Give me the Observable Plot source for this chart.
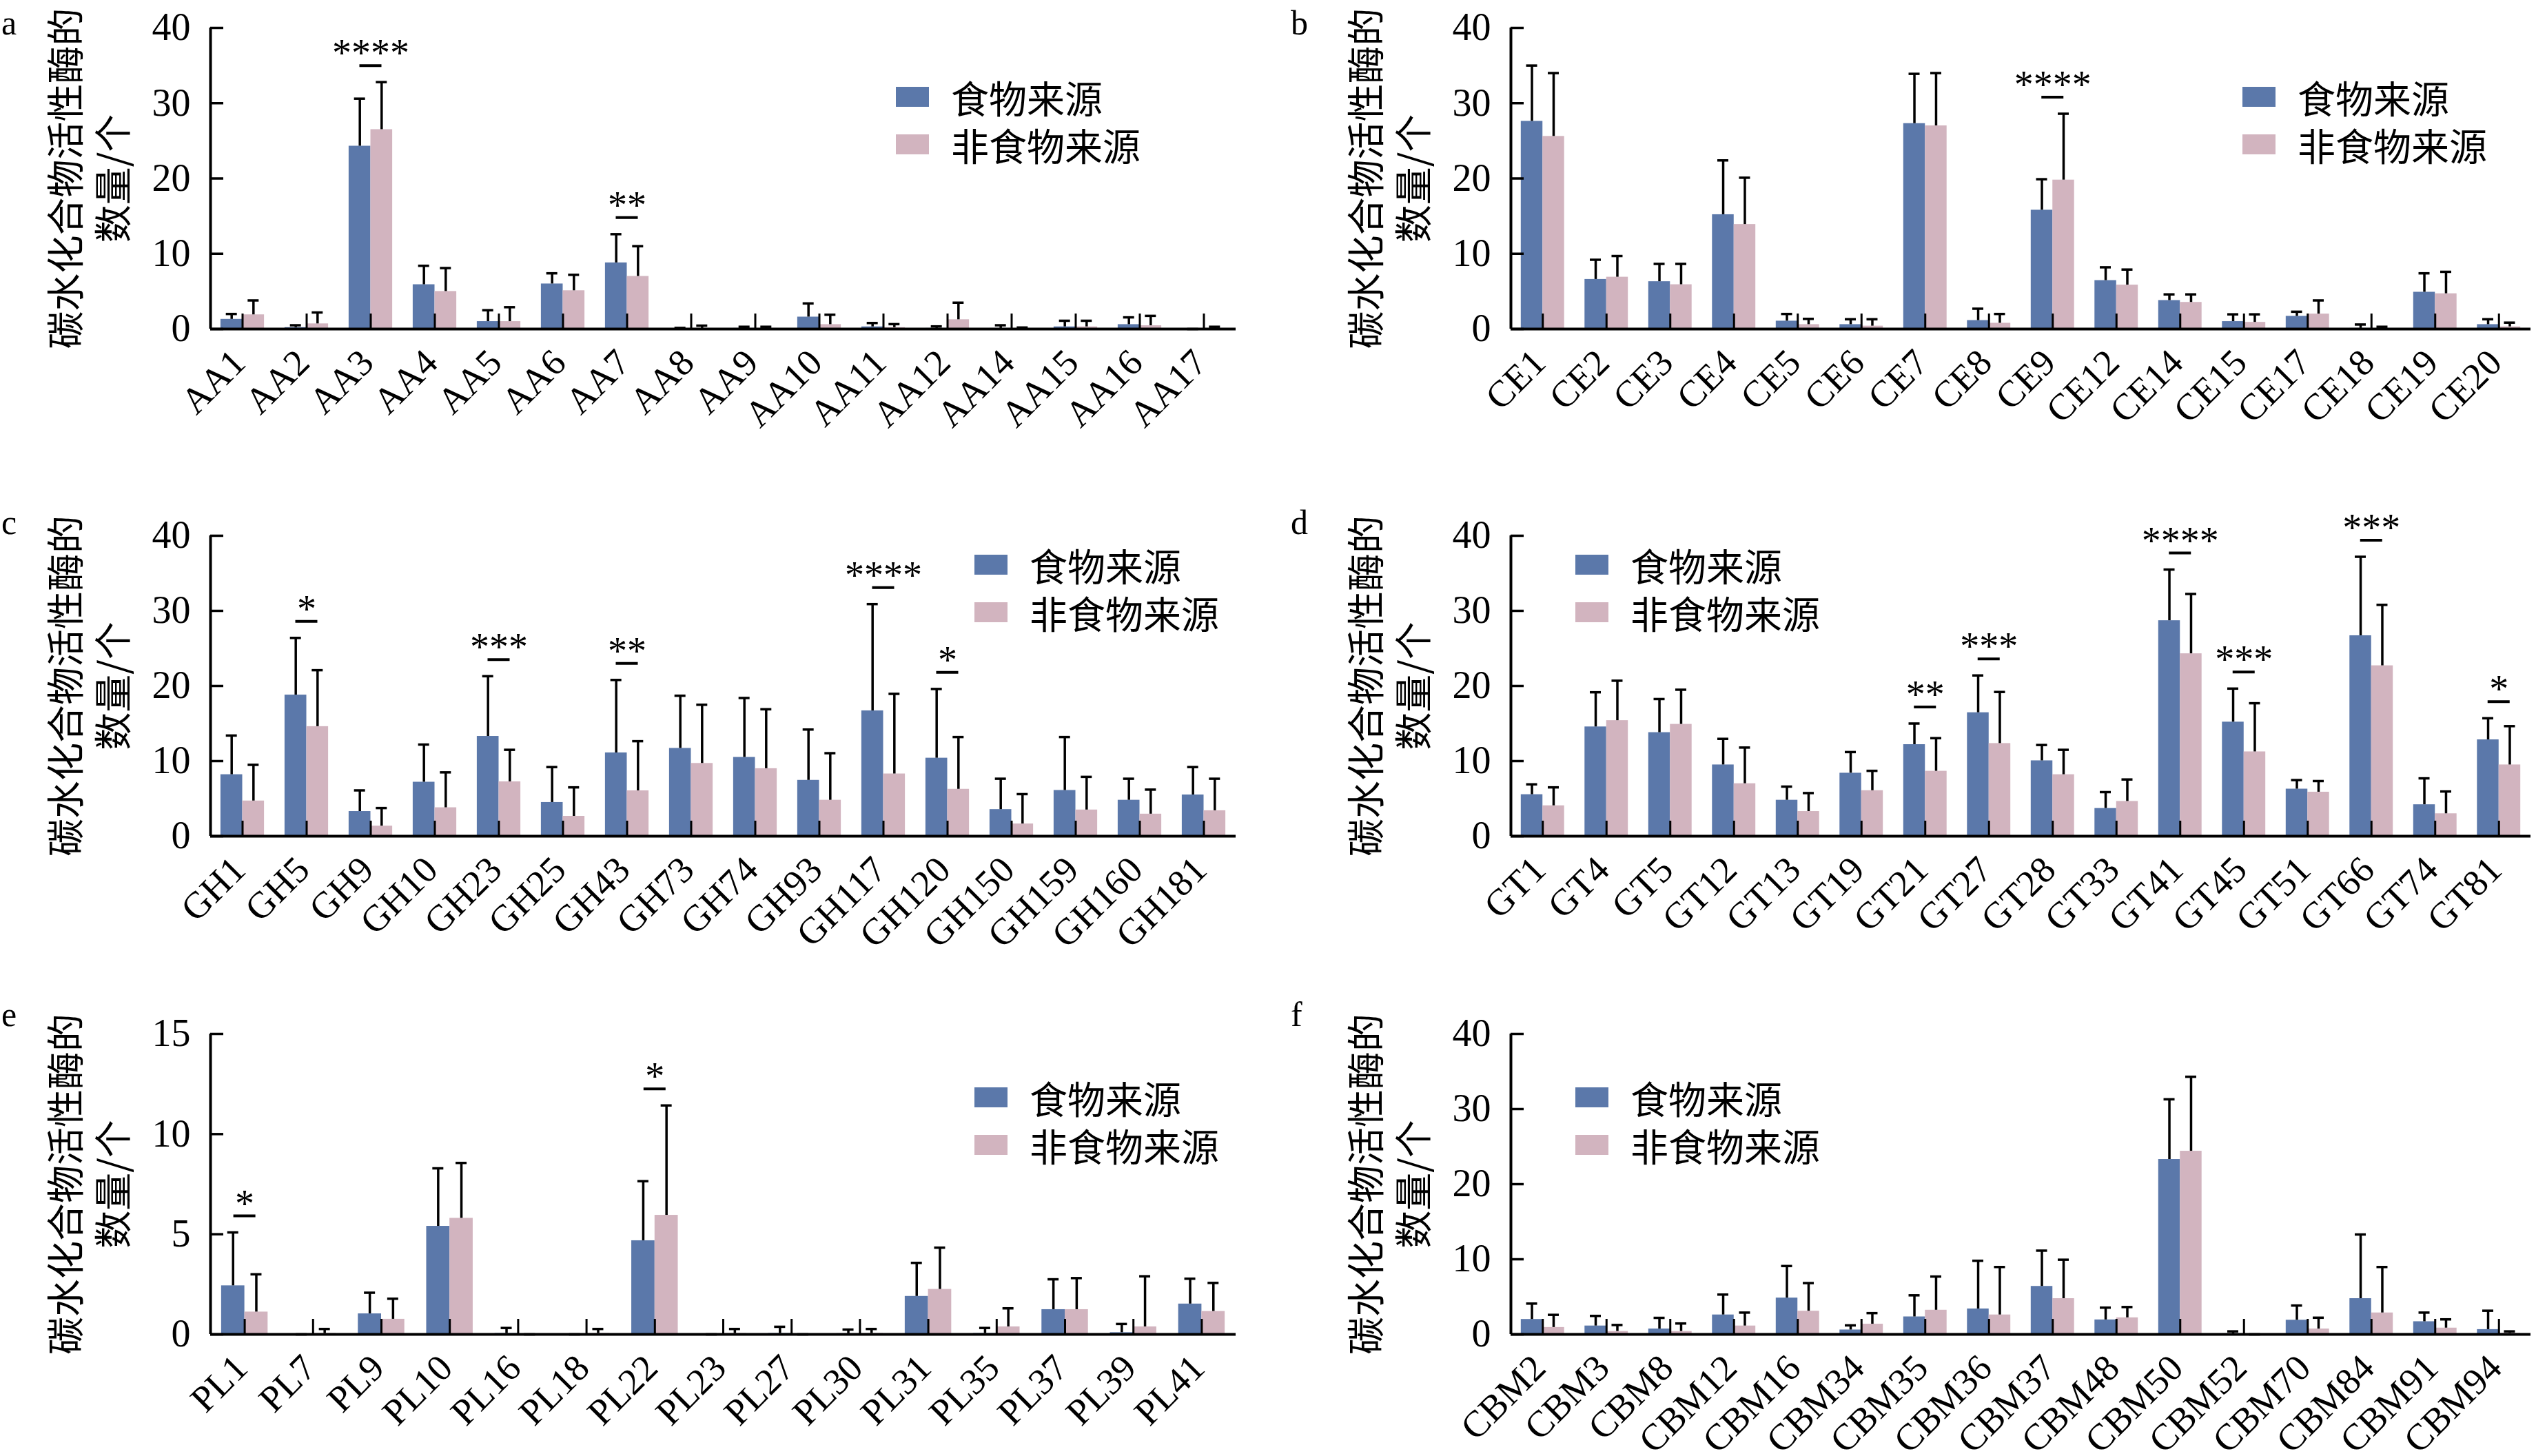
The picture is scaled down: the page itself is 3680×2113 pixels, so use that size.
<!DOCTYPE html>
<html>
<head>
<meta charset="utf-8">
<script src="https://cdn.jsdelivr.net/npm/d3@7"></script>
<script src="https://cdn.jsdelivr.net/npm/@observablehq/plot@0.6"></script>
<style>
  html, body { margin: 0; padding: 0; background: #fff; }
  #root { position: relative; width: 3680px; height: 2113px; overflow: hidden; background: #fff; }
  .panel { position: absolute; }
  .letter { position: absolute; font-family: "Liberation Serif", "Times New Roman", serif; font-size: 50px; line-height: 50px; color: #000; }
  .lrow { position: absolute; display: flex; align-items: center; height: 60px; white-space: nowrap; }
  .sw { width: 48px; height: 29px; margin-right: 32px; flex: none; }
  .lt { display: block; height: 60px; overflow: visible; font-family: "Noto Sans CJK SC", sans-serif; font-size: 55px; color: #000; line-height: 60px; }
</style>
</head>
<body>
<div id="root"></div>
<script>
// ---------------- data ----------------
const seriesNames = ["食物来源", "非食物来源"];
const yLabel = "碳水化合物活性酶的\n数量/个";

// a: AA
const aCats   = ["AA1","AA2","AA3","AA4","AA5","AA6","AA7","AA8","AA9","AA10","AA11","AA12","AA14","AA15","AA16","AA17"];
const aFood   = [1.3, 0.2, 24.3, 5.9, 1.0, 6.0, 8.8, 0.05, 0.1, 1.6, 0.3, 0.1, 0.1, 0.3, 0.6, 0];
const aFoodSd = [0.7, 0.3, 6.3, 2.5, 1.5, 1.4, 3.8, 0.1, 0.2, 1.8, 0.5, 0.25, 0.4, 0.8, 0.95, 0];
const aNon    = [1.9, 0.7, 26.5, 5.0, 1.0, 5.1, 7.0, 0.1, 0.1, 0.6, 0.2, 1.25, 0.05, 0.3, 0.45, 0.05];
const aNonSd  = [1.9, 1.5, 6.3, 3.1, 1.9, 2.1, 4.0, 0.35, 0.2, 1.3, 0.45, 2.25, 0.15, 0.8, 1.3, 0.25];
const aSigCats = ["AA3", "AA7"];
const aSigLabels = ["****", "**"];
const aTicks = [0, 10, 20, 30, 40];

// b: CE
const bCats   = ["CE1","CE2","CE3","CE4","CE5","CE6","CE7","CE8","CE9","CE12","CE14","CE15","CE17","CE18","CE19","CE20"];
const bFood   = [27.6, 6.6, 6.3, 15.2, 1.06, 0.6, 27.3, 1.14, 15.8, 6.45, 3.8, 1.0, 1.7, 0.1, 4.9, 0.6];
const bFoodSd = [7.4, 2.6, 2.35, 7.2, 0.94, 0.7, 6.6, 1.56, 4.1, 1.75, 0.8, 0.95, 0.6, 0.5, 2.5, 0.7];
const bNon    = [25.6, 6.9, 5.9, 13.9, 0.6, 0.4, 27.0, 0.78, 19.8, 5.85, 3.55, 0.9, 2.0, 0.05, 4.7, 0.3];
const bNonSd  = [8.4, 2.8, 2.75, 6.2, 0.75, 0.9, 7.0, 1.22, 8.8, 2.05, 1.05, 1.05, 1.8, 0.25, 2.9, 0.55];
const bSigCats = ["CE9"];
const bSigLabels = ["****"];
const bTicks = [0, 10, 20, 30, 40];

// c: GH
const cCats   = ["GH1","GH5","GH9","GH10","GH23","GH25","GH43","GH73","GH74","GH93","GH117","GH120","GH150","GH159","GH160","GH181"];
const cFood   = [8.2, 18.8, 3.3, 7.2, 13.3, 4.5, 11.1, 11.7, 10.5, 7.45, 16.7, 10.4, 3.56, 6.1, 4.8, 5.5];
const cFoodSd = [5.2, 7.6, 2.8, 5.0, 8.0, 4.7, 9.7, 7.0, 7.9, 6.75, 14.2, 9.2, 4.09, 7.1, 2.85, 3.7];
const cNon    = [4.7, 14.6, 1.35, 3.8, 7.25, 2.66, 6.05, 9.7, 9.0, 4.8, 8.3, 6.26, 1.64, 3.5, 2.95, 3.4];
const cNonSd  = [4.8, 7.5, 2.4, 4.7, 4.25, 3.84, 6.6, 7.8, 7.9, 6.25, 10.65, 6.94, 3.96, 4.4, 3.25, 4.25];
const cSigCats = ["GH5", "GH23", "GH43", "GH117", "GH120"];
const cSigLabels = ["*", "***", "**", "****", "*"];
const cTicks = [0, 10, 20, 30, 40];

// d: GT
const dCats   = ["GT1","GT4","GT5","GT12","GT13","GT19","GT21","GT27","GT28","GT33","GT41","GT45","GT51","GT66","GT74","GT81"];
const dFood   = [5.54, 14.56, 13.8, 9.5, 4.8, 8.4, 12.2, 16.45, 10.05, 3.7, 28.7, 15.2, 6.28, 26.7, 4.2, 12.84];
const dFoodSd = [1.36, 4.6, 4.46, 3.46, 1.8, 2.8, 2.8, 4.95, 2.09, 2.17, 6.8, 4.45, 1.19, 10.5, 3.5, 2.86];
const dNon    = [4.06, 15.4, 14.9, 7.0, 3.3, 6.07, 8.66, 12.35, 8.2, 4.64, 24.3, 11.24, 5.87, 22.7, 3.0, 9.5];
const dNonSd  = [2.44, 5.3, 4.6, 4.8, 2.44, 2.63, 4.39, 6.85, 3.3, 2.91, 7.95, 6.46, 1.47, 8.1, 2.95, 5.15];
const dSigCats = ["GT21", "GT27", "GT41", "GT45", "GT66", "GT81"];
const dSigLabels = ["**", "***", "****", "***", "***", "*"];
const dTicks = [0, 10, 20, 30, 40];

// e: PL
const eCats   = ["PL1","PL7","PL9","PL10","PL16","PL18","PL22","PL23","PL27","PL30","PL31","PL35","PL37","PL39","PL41"];
const eFood   = [2.43, 0, 1.03, 5.4, 0.05, 0, 4.68, 0, 0.05, 0.04, 1.9, 0.05, 1.24, 0.09, 1.52];
const eFoodSd = [2.66, 0, 1.05, 2.89, 0.27, 0, 2.97, 0, 0.33, 0.2, 1.67, 0.27, 1.51, 0.43, 1.26];
const eNon    = [1.12, 0.05, 0.76, 5.8, 0, 0.05, 5.95, 0.05, 0, 0.05, 2.25, 0.38, 1.24, 0.38, 1.15];
const eNonSd  = [1.88, 0.22, 1.02, 2.76, 0, 0.22, 5.48, 0.22, 0, 0.22, 2.08, 0.92, 1.57, 2.52, 1.42];
const eSigCats = ["PL1", "PL22"];
const eSigLabels = ["*", "*"];
const eTicks = [0, 5, 10, 15];

// f: CBM
const fCats   = ["CBM2","CBM3","CBM8","CBM12","CBM16","CBM34","CBM35","CBM36","CBM37","CBM48","CBM50","CBM52","CBM70","CBM84","CBM91","CBM94"];
const fFood   = [2.0, 1.13, 0.73, 2.6, 4.85, 0.6, 2.34, 3.4, 6.4, 1.94, 23.3, 0.1, 1.9, 4.77, 1.7, 0.65];
const fFoodSd = [2.1, 1.33, 1.47, 2.7, 4.25, 0.6, 2.86, 6.4, 4.75, 1.62, 8.0, 0.3, 1.94, 8.53, 1.2, 2.5];
const fNon    = [0.93, 0.4, 0.4, 1.13, 3.1, 1.37, 3.23, 2.6, 4.77, 2.22, 24.4, 0, 0.73, 2.87, 0.85, 0.15];
const fNonSd  = [1.67, 0.85, 1.05, 1.77, 3.73, 1.46, 4.47, 6.37, 5.17, 1.42, 9.9, 0, 1.49, 6.1, 1.15, 0.25];
const fSigCats = [];
const fSigLabels = [];
const fTicks = [0, 10, 20, 30, 40];

// ---------------- styles ----------------
const BLUE = "#5b78aa";
const PINK = "#d2b4bf";
const SERIF = "Liberation Serif, Times New Roman, serif";
const CJK = "Noto Sans CJK SC, sans-serif";

const panels = [
  {letter:"a", cats:aCats, food:aFood, foodSd:aFoodSd, non:aNon, nonSd:aNonSd, sigCats:aSigCats, sigLabels:aSigLabels, ticks:aTicks, yMax:40,
   left:0, top:0, width:1840, height:700, mt:40, mb:223, ml:305, mr:47, letterPos:[2, 8], legendPos:[1300, 140]},
  {letter:"b", cats:bCats, food:bFood, foodSd:bFoodSd, non:bNon, nonSd:bNonSd, sigCats:bSigCats, sigLabels:bSigLabels, ticks:bTicks, yMax:40,
   left:1840, top:0, width:1840, height:700, mt:40, mb:223, ml:352, mr:8, letterPos:[1873, 8], legendPos:[3254, 140]},
  {letter:"c", cats:cCats, food:cFood, foodSd:cFoodSd, non:cNon, nonSd:cNonSd, sigCats:cSigCats, sigLabels:cSigLabels, ticks:cTicks, yMax:40,
   left:0, top:720, width:1840, height:700, mt:57, mb:207, ml:305, mr:47, letterPos:[2, 733], legendPos:[1414, 819]},
  {letter:"d", cats:dCats, food:dFood, foodSd:dFoodSd, non:dNon, nonSd:dNonSd, sigCats:dSigCats, sigLabels:dSigLabels, ticks:dTicks, yMax:40,
   left:1840, top:720, width:1840, height:700, mt:57, mb:207, ml:352, mr:8, letterPos:[1873, 733], legendPos:[2286, 819]},
  {letter:"e", cats:eCats, food:eFood, foodSd:eFoodSd, non:eNon, nonSd:eNonSd, sigCats:eSigCats, sigLabels:eSigLabels, ticks:eTicks, yMax:15,
   left:0, top:1420, width:1840, height:693, mt:80, mb:177, ml:305, mr:47, letterPos:[2, 1447], legendPos:[1414, 1592]},
  {letter:"f", cats:fCats, food:fFood, foodSd:fFoodSd, non:fNon, nonSd:fNonSd, sigCats:fSigCats, sigLabels:fSigLabels, ticks:fTicks, yMax:40,
   left:1840, top:1420, width:1840, height:693, mt:80, mb:177, ml:352, mr:8, letterPos:[1873, 1447], legendPos:[2286, 1592]}
];

const root = document.getElementById("root");

function makePanel(p) {
  const n = p.cats.length;
  const pw = p.width - p.ml - p.mr;
  const ph = p.height - p.mt - p.mb;
  const pi = 0.32, po = 0.16;
  const step = pw / (n - pi + 2 * po);
  const bw = step * (1 - pi);
  const capHalf = 8;
  const food = p.cats.map((c, i) => ({cat: c, v: p.food[i], sd: p.foodSd[i]}));
  const non = p.cats.map((c, i) => ({cat: c, v: p.non[i], sd: p.nonSd[i]}));
  const topOf = new Map(p.cats.map((c, i) => [c, Math.max(p.food[i] + p.foodSd[i], p.non[i] + p.nonSd[i])]));
  const sig = p.sigCats.map((c, i) => ({cat: c, y: topOf.get(c), label: p.sigLabels[i]}));

  const svg = Plot.plot({
    width: p.width,
    height: p.height,
    marginTop: p.mt,
    marginBottom: p.mb,
    marginLeft: p.ml,
    marginRight: p.mr,
    style: {background: "transparent", color: "black", overflow: "visible"},
    x: {type: "band", domain: p.cats, paddingInner: pi, paddingOuter: po, round: false, axis: null},
    y: {domain: [0, p.yMax], axis: null},
    marks: [
      Plot.barY(food, {x: "cat", y: "v", fill: BLUE, insetRight: bw / 2}),
      Plot.barY(non, {x: "cat", y: "v", fill: PINK, insetLeft: bw / 2}),
      Plot.ruleX(food, {x: "cat", y1: "v", y2: d => d.v + d.sd, dx: -bw / 4, stroke: "black", strokeWidth: 3.5}),
      Plot.ruleX(non, {x: "cat", y1: "v", y2: d => d.v + d.sd, dx: bw / 4, stroke: "black", strokeWidth: 3.5}),
      Plot.tickY(food, {x: "cat", y: d => d.v + d.sd, insetLeft: bw / 4 - capHalf, insetRight: 3 * bw / 4 - capHalf, stroke: "black", strokeWidth: 3.5}),
      Plot.tickY(non, {x: "cat", y: d => d.v + d.sd, insetLeft: 3 * bw / 4 - capHalf, insetRight: bw / 4 - capHalf, stroke: "black", strokeWidth: 3.5}),
      Plot.ruleX(p.cats, {x: d => d, insetTop: ph - 22, stroke: "black", strokeWidth: 3}),
      Plot.ruleY(p.ticks, {y: d => d, insetRight: pw - 19, stroke: "black", strokeWidth: 3.5}),
      Plot.ruleY([0], {stroke: "black", strokeWidth: 4}),
      Plot.ruleX([p.cats[0]], {x: d => d, dx: -(po * step + bw / 2), stroke: "black", strokeWidth: 4}),
      Plot.tickY(sig, {x: "cat", y: "y", dy: -24, insetLeft: bw / 2 - 16, insetRight: bw / 2 - 16, stroke: "black", strokeWidth: 4}),
      Plot.text(sig, {x: "cat", y: "y", text: "label", dy: -23, lineAnchor: "bottom", fontSize: 56, fontFamily: SERIF, fill: "black"}),
      Plot.axisY({ticks: p.ticks, tickSize: 0, tickPadding: 29, fontSize: 56, fontFamily: SERIF, label: null}),
      Plot.text(p.cats, {x: d => d, text: d => d, frameAnchor: "bottom", rotate: -45, textAnchor: "end", lineAnchor: "bottom", dx: 7, dy: 52, fontSize: 54, fontFamily: SERIF, fill: "black"}),
      Plot.text([yLabel], {text: d => d, frameAnchor: "left", textAnchor: "middle", lineAnchor: "middle", rotate: -90, dx: -178, fontSize: 55, lineHeight: 1.25, fontFamily: CJK, fill: "black"})
    ]
  });

  const wrap = document.createElement("div");
  wrap.className = "panel";
  wrap.style.left = p.left + "px";
  wrap.style.top = p.top + "px";
  wrap.appendChild(svg);
  root.appendChild(wrap);

  const letter = document.createElement("div");
  letter.className = "letter";
  letter.style.left = p.letterPos[0] + "px";
  letter.style.top = p.letterPos[1] + "px";
  letter.textContent = p.letter;
  root.appendChild(letter);

  const colors = [BLUE, PINK];
  seriesNames.forEach((name, i) => {
    const row = document.createElement("div");
    row.className = "lrow";
    row.style.left = p.legendPos[0] + "px";
    row.style.top = (p.legendPos[1] + i * 69 - 30) + "px";
    const sw = document.createElement("div");
    sw.className = "sw";
    sw.style.background = colors[i];
    const t = document.createElement("span");
    t.className = "lt";
    t.textContent = name;
    row.appendChild(sw);
    row.appendChild(t);
    root.appendChild(row);
  });
}

panels.forEach(makePanel);
</script>
</body>
</html>
